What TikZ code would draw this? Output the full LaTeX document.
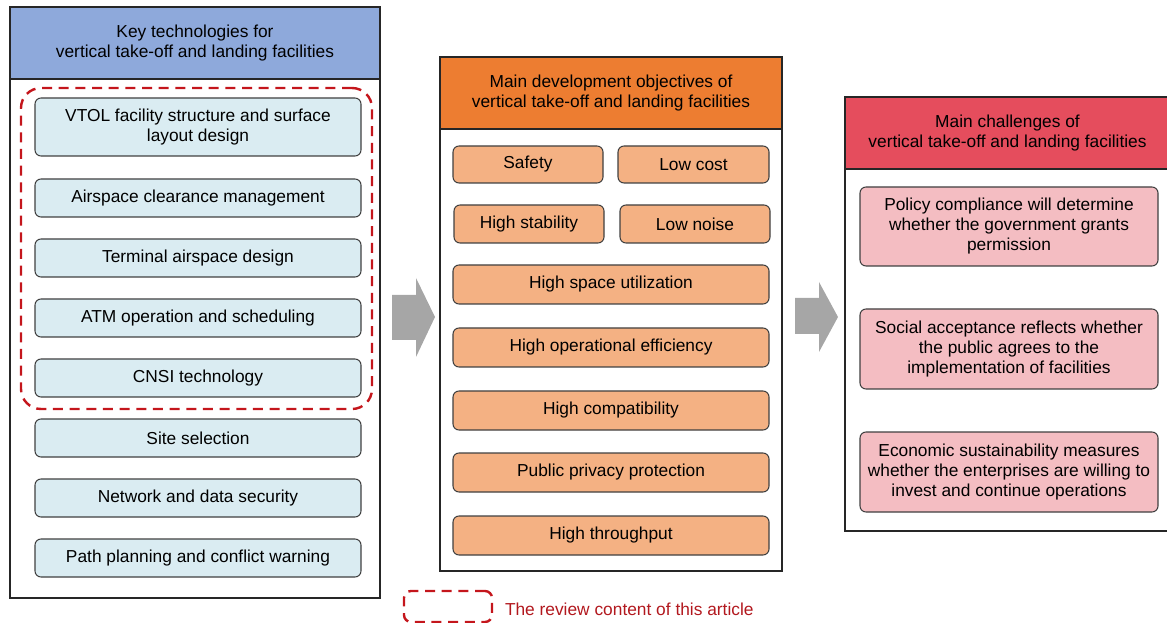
\documentclass[tikz,border=0pt]{standalone}
\usepackage{fontspec}
\setmainfont{Liberation Sans}
\newdimen\pxu \pxu=0.75pt
\definecolor{hdblue}{RGB}{142,169,219}
\definecolor{bxblue}{RGB}{218,236,242}
\definecolor{hdorange}{RGB}{237,125,49}
\definecolor{bxorange}{RGB}{244,177,131}
\definecolor{hdred}{RGB}{229,77,93}
\definecolor{bxpink}{RGB}{244,189,194}
\definecolor{arrowgray}{RGB}{166,166,166}
\definecolor{review}{RGB}{196,22,28}
\definecolor{reviewtext}{RGB}{178,24,30}
\tikzset{
  every node/.style={font=\fontsize{13}{15}\selectfont, align=center, inner sep=0pt, outer sep=0pt},
  panel/.style={draw=black!85, line width=1.1pt},
  header/.style={draw=black!85, line width=1.1pt},
  item/.style={draw=black!75, line width=0.8pt, rounded corners=6\pxu},
  reviewbox/.style={draw=review, line width=1.8pt, dash pattern=on 7.5pt off 5pt, rounded corners=20\pxu},
  bigarrow/.style={fill=arrowgray}
}
% node from pixel corners: style, name, x1, y1, x2, y2, text
\newcommand\boxat[7]{%
  \node[#1, minimum width={(#5-#3)*\pxu}, minimum height={(#6-#4)*\pxu}]
    (#2) at ({(#3+#5)/2},{(#4+#6)/2}) {#7};}
\begin{document}
\begin{tikzpicture}[x=0.75pt, y=-0.75pt]
\useasboundingbox (0,0) rectangle (1167,623);
\clip (0,0) rectangle (1167,623);

% ---------- left panel: key technologies ----------
\boxat{panel}{keyp}{10}{7}{380}{598}{}
\boxat{header, fill=hdblue}{keyh}{10}{7}{380}{79}{Key technologies for\\vertical take-off and landing facilities}
\boxat{item, fill=bxblue}{k1}{35}{98}{361}{156}{VTOL facility structure and surface\\layout design}
\boxat{item, fill=bxblue}{k2}{35}{179}{361}{217}{Airspace clearance management}
\boxat{item, fill=bxblue}{k3}{35}{239}{361}{277}{Terminal airspace design}
\boxat{item, fill=bxblue}{k4}{35}{299}{361}{337}{ATM operation and scheduling}
\boxat{item, fill=bxblue}{k5}{35}{359}{361}{397}{CNSI technology}
\boxat{item, fill=bxblue}{k6}{35}{419}{361}{457}{Site selection}
\boxat{item, fill=bxblue}{k7}{35}{479}{361}{517}{Network and data security}
\boxat{item, fill=bxblue}{k8}{35}{539}{361}{577}{Path planning and conflict warning}
\boxat{reviewbox}{rev}{21}{88}{372}{409}{}

% ---------- middle panel: development objectives ----------
\boxat{panel}{objp}{440}{57}{782}{571}{}
\boxat{header, fill=hdorange}{objh}{440}{57}{782}{129}{Main development objectives of\\vertical take-off and landing facilities}
\boxat{item, fill=bxorange}{o1}{453}{146}{603}{183}{Safety}
\boxat{item, fill=bxorange}{o2}{618}{146}{769}{183}{Low cost}
\boxat{item, fill=bxorange}{o3}{454}{205}{604}{243}{High stability}
\boxat{item, fill=bxorange}{o4}{620}{205}{770}{243}{Low noise}
\boxat{item, fill=bxorange}{o5}{453}{265}{769}{304}{High space utilization}
\boxat{item, fill=bxorange}{o6}{453}{328}{769}{367}{High operational efficiency}
\boxat{item, fill=bxorange}{o7}{453}{391}{769}{430}{High compatibility}
\boxat{item, fill=bxorange}{o8}{453}{453}{769}{492}{Public privacy protection}
\boxat{item, fill=bxorange}{o9}{453}{516}{769}{555}{High throughput}

% ---------- right panel: challenges ----------
\boxat{panel}{chp}{845}{97}{1170}{531}{}
\boxat{header, fill=hdred}{chh}{845}{97}{1170}{169}{Main challenges of\\vertical take-off and landing facilities}
\boxat{item, fill=bxpink}{c1}{860}{187}{1158}{266}{Policy compliance will determine\\whether the government grants\\permission}
\boxat{item, fill=bxpink}{c2}{860}{309}{1158}{389}{Social acceptance reflects whether\\the public agrees to the\\implementation of facilities}
\boxat{item, fill=bxpink}{c3}{860}{432}{1158}{512}{Economic sustainability measures\\whether the enterprises are willing to\\invest and continue operations}

% ---------- block arrows between panels ----------
\fill[bigarrow] (392,295) -- (416,295) -- (416,278) -- (435,317) -- (416,357)
  -- (416,340) -- (392,340) -- cycle;
\fill[bigarrow] (795,298) -- (819,298) -- (819,282) -- (838,317) -- (819,352)
  -- (819,334) -- (795,334) -- cycle;

% ---------- legend ----------
\boxat{reviewbox, rounded corners=7\pxu}{legbox}{404}{591}{492}{622}{}
\node[anchor=west, text=reviewtext] (legtext) at (505,609) {The review content of this article};
\end{tikzpicture}
\end{document}
